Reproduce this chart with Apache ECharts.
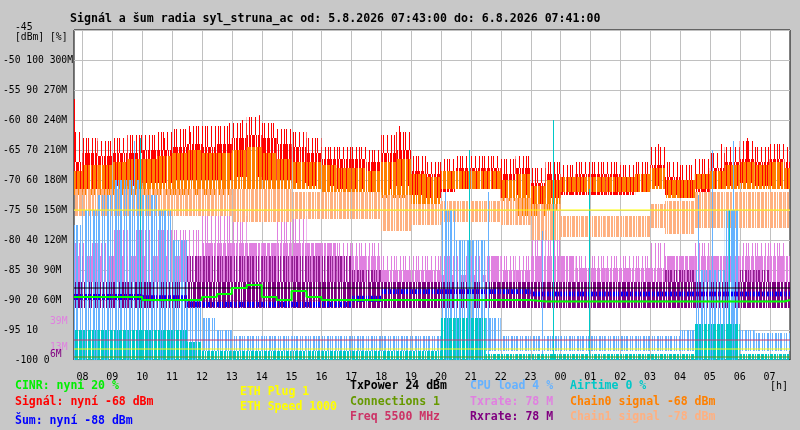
<!DOCTYPE html>
<html>
<head>
<meta charset="utf-8">
<script src="https://cdn.jsdelivr.net/npm/echarts@6/dist/echarts.min.js"></script>
<style>
  html, body { margin: 0; padding: 0; background: #c8c8c8; }
  #chart { width: 800px; height: 430px; }
</style>
</head>
<body>
<div id="chart"></div>
<script>
// cas = minuty od 5.8.2026 00:00
const startMin = 463;   // 07:43
const endMin = 1901;    // 07:41 dalsi den
// pulhodinove biny: 07:43, 08:00, 08:30 ... 07:30
const binStart = [startMin].concat(Array.from({ length: 48 }, (_, i) => 480 + 30 * i));
const binEnd = binStart.slice(1).concat([endMin]);

const hourLabels = ['08','09','10','11','12','13','14','15','16','17','18','19','20','21','22','23','00','01','02','03','04','05','06','07'];
const hourTicks = hourLabels.map((_, i) => 480 + 60 * i);

const dbmTicks = [-100, -95, -90, -85, -80, -75, -70, -65, -60, -55, -50, -45];
const pctTicks = ['0', '10', '20', '30', '40', '50', '60', '70', '80', '90', '100', ''];
const rateTicks = ['', '', '60M', '90M', '120M', '150M', '180M', '210M', '240M', '270M', '300M', ''];

// Signal (dBm): spickova obalka, huste jadro, dolni mez
const signalPeak = [-62,-63,-63.5,-63,-62.5,-62.5,-62,-61.5,-61,-61,-61,-60.5,-59.5,-60.5,-61.5,-62,-63,-64.5,-64.5,-64.5,-65,-62.5,-62,-66,-67,-66.5,-66,-66,-66,-66.5,-66,-68,-67,-67.5,-67,-67,-67,-67.5,-67,-64.5,-67,-67.5,-66.5,-65.5,-64.5,-63.5,-64.5,-64,-64.5];
const signalHi = [-67,-65.5,-66,-65.5,-65.5,-65,-65,-64.5,-64,-64.5,-64,-63,-62.5,-63,-64,-64.5,-65.5,-66.5,-66.5,-66.5,-67,-65.5,-65,-68.5,-69,-68.5,-68,-68,-68,-69,-68,-70.5,-69,-69.5,-69,-69,-69,-69.5,-69,-67.5,-69.5,-70,-69,-68,-67,-66.5,-67,-66.5,-67];
const signalLo = [-72,-71.5,-71.5,-71,-71,-70.5,-70.5,-70,-70,-70,-70,-69.5,-69.5,-70,-70,-70.5,-71,-71,-71.5,-71.5,-72,-71.5,-71,-72.5,-73,-72,-71.5,-71.5,-71.5,-73,-72.5,-74,-73,-72.5,-72.5,-72.5,-72.5,-72.5,-72,-71,-72.5,-73,-72,-71.5,-71,-70.5,-71,-71,-71.5];
const signalSpikes = [[464,-56.5],[643,-63],[695,-62],[775,-60.5],[801,-60],[835,-59.2],[1115,-61],[1635,-64],[1763,-64],[1815,-63]];

// Chain0 / Chain1 (dBm)
const chain0Hi = [-68.5,-67.5,-67.5,-67,-66.5,-66.5,-66,-65.5,-65,-65.5,-65.5,-65,-64.5,-65.5,-66.5,-67,-67,-67.5,-68,-68,-68.5,-67,-66.5,-69,-69.5,-68.5,-68.5,-68.5,-68.5,-70,-69,-71,-70,-69.5,-69.5,-69.5,-69.5,-69.5,-69,-68,-70,-70,-69,-68.5,-67.5,-67,-67.5,-67,-68];
const chain0Lo = [-72.5,-72.5,-72.5,-72.5,-72.5,-72.5,-72.5,-72.5,-72.5,-72.5,-72.5,-71.5,-71.5,-71.5,-71.5,-71.5,-71.5,-72,-72,-72,-72,-73,-73,-74,-74,-71.5,-71.5,-71.5,-71.5,-73.5,-76,-76,-75,-72,-72,-72,-72,-72,-72,-71.5,-73,-73,-71.5,-71.5,-71.5,-71.5,-71.5,-71.5,-71.5];
const chain1Hi = [-71.5,-71.5,-71.5,-71.5,-71.5,-71.5,-71.5,-71.5,-71.5,-71.5,-71.5,-71.5,-71.5,-71.5,-71.5,-72,-72,-72,-72,-72,-72,-72.5,-72.5,-74,-74,-73.5,-73.5,-73.5,-73.5,-73,-73,-74,-74,-76,-76,-76,-76,-76,-76,-74,-73.5,-73.5,-72,-72,-72,-72,-72,-72,-72];
const chain1Lo = [-76,-76,-76,-76,-76,-76,-76,-76,-76,-76,-76,-77,-77,-77,-77,-76.5,-76.5,-76.5,-76.5,-76.5,-76.5,-78.5,-78.5,-77.5,-77.5,-77,-77,-77,-77,-77.5,-77.5,-80,-80,-79.5,-79.5,-79.5,-79.5,-79.5,-79.5,-78,-79,-79,-78,-78,-78,-78,-78,-78,-78];

// CPU load a Airtime (%)
const cpuHi = [45,50,55,60,60,55,50,40,20,14,10,8,8,8,8,8,8,8,8,8,8,8,8,8,8,50,40,40,14,8,8,8,8,8,8,8,8,8,8,8,8,10,30,30,50,10,9,9,9];
const cpuLo = [0,0,0,0,0,0,0,0,0,3,3,3,3,3,3,3,3,3,3,3,3,3,3,3,3,0,0,0,3,3,3,3,3,3,3,3,3,3,3,3,3,3,0,0,0,3,3,3,3];
const cpuSpikes = [[583,73],[1209,56],[1295,56],[1403,43],[1717,55],[1745,70],[1787,73]];
const airHi = [10,10,10,10,10,10,10,10,6,3,3,3,3,3,3,3,3,3,3,3,3,3,3,3,3,14,14,14,2,2,2,2,2,2,2,2,2,2,2,2,2,2,12,12,12,2,2,2,2];
const airSpikes = [[595,74],[1257,70],[1425,80],[1497,57],[1779,50]];

// Txrate / Rxrate (M)
const txBase = 78;
const txHi = [104,104,104,104,104,104,104,104,104,117,117,117,117,117,117,117,117,117,104,104,104,90,90,90,90,85,85,85,104,90,90,104,104,104,92,92,92,92,92,92,104,104,104,104,104,104,104,104,104];
const txPeak = [117,117,117,130,130,130,130,130,130,144,144,144,117,117,144,144,117,117,117,117,117,104,104,104,104,104,104,104,104,104,104,130,130,104,104,104,104,104,104,117,104,104,117,104,104,117,117,117,104];
const rxBase = 52;
const rxHi = 78;
const rxPeak = [104,104,104,104,104,104,104,104,104,104,104,104,104,104,104,104,104,104,104,90,90,78,78,78,78,78,78,78,78,78,78,78,78,78,78,78,78,78,78,78,90,90,90,90,90,90,90,78,78];
const minRates = [39, 13, 6];

// Sum (dBm) a CINR (%)
const noiseHi = [-89,-89,-89,-89,-89,-89.2,-89.2,-89.2,-90.3,-90.3,-90.3,-90.3,-90.3,-90.3,-90.3,-90.3,-90.3,-90.3,-90.3,-89.3,-89.3,-88.2,-88.2,-88.2,-88.2,-88.2,-88.2,-88.2,-88.2,-88.2,-88.2,-88.6,-88.6,-88.6,-88.6,-88.6,-88.6,-88.6,-88.6,-88.6,-88.6,-88.6,-88.6,-88.6,-88.6,-88.6,-88.6,-88.6,-88.6];
const noiseLo = [-90,-90,-90,-90,-90,-90.2,-90.2,-90.2,-91.2,-91.2,-91.2,-91.2,-91.2,-91.2,-91.2,-91.2,-91.2,-91.2,-91.2,-90.3,-90.3,-89,-89,-89,-89,-89,-89,-89,-89,-89,-89,-89.4,-89.4,-89.4,-89.4,-89.4,-89.4,-89.4,-89.4,-89.4,-89.4,-89.4,-89.4,-89.4,-89.4,-89.4,-89.4,-89.4,-89.4];
const cinr = [21,21,21,21,21,20,20,20,20,21,22,24,25,21,20,23,21,20,20,20,20,20,20,20,20,20,20,20,20,20,20,19.5,19.5,19.5,19.5,19.5,19.5,19.5,19.5,19.5,19.5,19.5,19.5,19.5,19.5,19.5,19.5,19.5,20];

// vodorovne urovne (ETH Speed, TxPower, Freq, ETH Plug, Connections) v ose dBm
const levelValues = [-75, -88, -96.67, -98.17, -99.5];
const levelColors = ['#ffff00', '#000000', '#cc3366', '#ffff00', '#669900'];

// prevody na spolecnou osu
const pct = p => -100 + p / 2;
const mbit = m => -100 + m / 6;
const same = v => v;

const MONO = '"DejaVu Sans Mono", monospace';

// svisle "carkovani" pro husta pasma, at vypadaji jako rrd cary
function stripes(color, mask) {
  const c = document.createElement('canvas');
  c.width = mask.length;
  c.height = 1;
  const g = c.getContext('2d');
  g.fillStyle = color;
  for (let i = 0; i < mask.length; i++) {
    if (mask[i] === '1') g.fillRect(i, 0, 1, 1);
  }
  return { image: c, repeat: 'repeat' };
}
const DENSE_A = '1101110110111010110111';
const DENSE_B = '1011101101110110101110111';
const DENSE_C = '1110110101110111011010';
const HALF = '1010011010110010100110';
const SPARSE = '1000100101000100010010';

function band(lo, hi, fill, opacity, conv) {
  const data = binStart.map((t, i) => {
    const l = Array.isArray(lo) ? lo[i] : lo;
    const h = Array.isArray(hi) ? hi[i] : hi;
    return [t, binEnd[i], conv(l), conv(h)];
  });
  return {
    type: 'custom', silent: true, clip: true,
    encode: { x: [0, 1], y: [2, 3] },
    renderItem: (params, api) => {
      const a = api.coord([api.value(0), api.value(3)]);
      const b = api.coord([api.value(1), api.value(2)]);
      return {
        type: 'rect',
        shape: { x: a[0], y: a[1], width: b[0] - a[0], height: b[1] - a[1] },
        style: { fill: fill, opacity: opacity }
      };
    },
    data: data
  };
}

function spikes(list, base, color, conv) {
  return {
    type: 'custom', silent: true, clip: true,
    encode: { x: 0, y: [1, 2] },
    renderItem: (params, api) => {
      const a = api.coord([api.value(0), api.value(1)]);
      const b = api.coord([api.value(0), api.value(2)]);
      const x = Math.round(a[0]) + 0.5;
      return { type: 'line', shape: { x1: x, y1: a[1], x2: x, y2: b[1] }, style: { stroke: color, lineWidth: 1 } };
    },
    data: list.map(([t, v]) => [t, conv(base), conv(v)])
  };
}

function level(v, color) {
  return {
    type: 'line', silent: true, symbol: 'none',
    lineStyle: { color: color, width: 1 },
    data: [[startMin, v], [endMin, v]]
  };
}

const hourGrid = {
  type: 'custom', silent: true,
  encode: { x: 0 },
  renderItem: (params, api) => {
    const a = api.coord([api.value(0), -45]);
    const b = api.coord([api.value(0), -100]);
    const x = Math.round(a[0]) + 0.5;
    return { type: 'line', shape: { x1: x, y1: a[1], x2: x, y2: b[1] }, style: { stroke: '#c0c0c0', lineWidth: 1 } };
  },
  data: hourTicks.map(t => [t])
};

const legendItems = [
  ['CINR: nyní 20 %', 15, 386, '#00ee00'],
  ['Signál: nyní -68 dBm', 15, 402, '#ff0000'],
  ['Šum: nyní -88 dBm', 15, 421, '#0000ff'],
  ['ETH Plug 1', 240, 392, '#ffff00'],
  ['ETH Speed 1000', 240, 407, '#ffff00'],
  ['TxPower 24 dBm', 350, 386, '#000000'],
  ['Connections 1', 350, 402, '#669900'],
  ['Freq 5500 MHz', 350, 417, '#cc3366'],
  ['CPU load 4 %', 470, 386, '#66b2ff'],
  ['Txrate: 78 M', 470, 402, '#e080e0'],
  ['Rxrate: 78 M', 470, 417, '#800080'],
  ['Airtime 0 %', 570, 386, '#00c8c8'],
  ['Chain0 signal -68 dBm', 570, 402, '#ff8000'],
  ['Chain1 signal -78 dBm', 570, 417, '#ffb080']
];

const chart = echarts.init(document.getElementById('chart'));

chart.setOption({
  animation: false,
  backgroundColor: '#c8c8c8',
  grid: { left: 71, right: 10, top: 30, bottom: 70, show: true, backgroundColor: '#ffffff', borderColor: '#000000', borderWidth: 1 },
  xAxis: {
    type: 'value', min: startMin, max: endMin,
    axisLine: { show: false }, axisTick: { show: false }, splitLine: { show: false },
    axisLabel: {
      customValues: hourTicks,
      formatter: v => hourLabels[hourTicks.indexOf(v)] || '',
      margin: 12, color: '#000', fontFamily: MONO, fontSize: 10
    }
  },
  yAxis: {
    type: 'value', min: -100, max: -45, interval: 5,
    axisLine: { show: false }, axisTick: { show: false },
    splitLine: { show: true, lineStyle: { color: '#c0c0c0', width: 1 } },
    axisLabel: {
      align: 'left', margin: 71, color: '#000', fontFamily: MONO, fontSize: 9.7,
      formatter: v => {
        const i = dbmTicks.indexOf(v);
        if (i < 0 || v === -45) return '';
        if (v === -100) return '\u00a0\u00a0-100 ' + pctTicks[i];
        return [v, pctTicks[i], rateTicks[i]].filter(s => s !== '').join(' ');
      }
    }
  },
  series: [
    hourGrid,
    band(txBase, txPeak, stripes('#e080e0', SPARSE), 1, mbit),
    band(txBase, txHi, stripes('#e080e0', DENSE_A), 1, mbit),
    band(rxHi, rxPeak, stripes('#800080', HALF), 0.8, mbit),
    band(rxBase, rxHi, stripes('#800080', DENSE_B), 1, mbit),
    spikes(signalSpikes, -68, '#ff0000', same),
    band(signalHi, signalPeak, stripes('#ff0000', SPARSE), 1, same),
    band(signalLo, signalHi, stripes('#ff0000', DENSE_A), 1, same),
    band(chain0Lo, chain0Hi, stripes('#ff8000', DENSE_B), 1, same),
    band(chain1Lo, chain1Hi, stripes('#ffb080', DENSE_C), 1, same),
    band(cpuLo, cpuHi, stripes('#66b2ff', HALF), 1, pct),
    spikes(cpuSpikes, 0, '#66b2ff', pct),
    band(0, airHi, stripes('#00c8c8', DENSE_C), 1, pct),
    spikes(airSpikes, 0, '#00c8c8', pct),
    band(noiseLo, noiseHi, stripes('#0000ff', HALF), 1, same),
    level(levelValues[0], levelColors[0]),
    level(levelValues[1], levelColors[1]),
    level(levelValues[2], levelColors[2]),
    level(levelValues[3], levelColors[3]),
    level(levelValues[4], levelColors[4]),
    {
      type: 'line', silent: true, symbol: 'none', step: 'end',
      lineStyle: { color: '#00ff00', width: 2 },
      data: binStart.map((t, i) => [t, pct(cinr[i])]).concat([[endMin, pct(cinr[cinr.length - 1])]])
    }
  ]
});

const rateColors = ['#e080e0', '#e080e0', '#800080'];
const graphics = [
  { type: 'text', x: 70, y: 19, style: { text: 'Signál a šum radia syl_struna_ac od: 5.8.2026 07:43:00 do: 6.8.2026 07:41:00', fill: '#000', font: 'bold 11.6px ' + MONO, verticalAlign: 'middle' } },
  { type: 'text', x: 15, y: 27, style: { text: '-45', fill: '#000', font: '9.7px ' + MONO, verticalAlign: 'middle' } },
  { type: 'text', x: 15, y: 37, style: { text: '[dBm] [%]', fill: '#000', font: '9.7px ' + MONO, verticalAlign: 'middle' } },
  { type: 'text', x: 770, y: 386, style: { text: '[h]', fill: '#000', font: '10px ' + MONO, verticalAlign: 'middle' } }
];
minRates.forEach((m, i) => {
  const y = chart.convertToPixel({ yAxisIndex: 0 }, mbit(m));
  graphics.push({ type: 'text', x: 50, y: y, style: { text: m + 'M', fill: rateColors[i], font: '9.7px ' + MONO, verticalAlign: 'middle' } });
});
legendItems.forEach(([text, x, y, color]) => {
  graphics.push({ type: 'text', x: x, y: y, style: { text: text, fill: color, font: 'bold 11.5px ' + MONO, verticalAlign: 'middle' } });
});
chart.setOption({ graphic: graphics });
</script>
</body>
</html>
